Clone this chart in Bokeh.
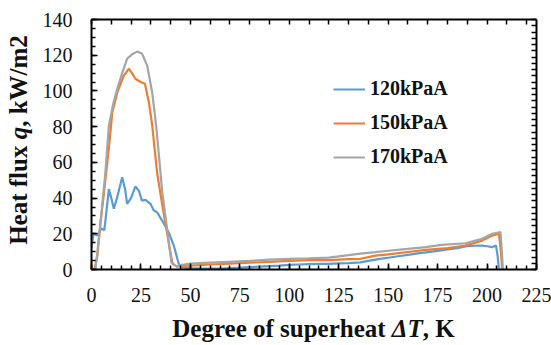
from bokeh.plotting import figure
from bokeh.layouts import row, column
from bokeh.models import (Range1d, LinearAxis, FixedTicker, SingleIntervalTicker,
                          Legend, LegendItem, CustomLabelingPolicy, Div)
from bokeh.embed import file_html
from bokeh.resources import INLINE

# ---------------- data ----------------
t_120 = [0, 1, 3, 5, 6.5, 8.8, 10, 11.3, 13, 15.5, 17, 18, 20, 22.2, 24, 25.5, 27.3,
         29.8, 31.5, 33.2, 35.7, 39, 41.6, 44.1, 46, 50, 55, 60, 65, 70, 75, 80, 85,
         90, 95, 100, 105, 110, 115, 120, 125, 130, 136, 140, 145, 150, 155, 160,
         165, 170, 175, 180, 185, 189, 193, 197.5, 200, 202.6, 204.5, 205.3, 206]
q_120 = [12, 20, 19, 23, 22, 45, 40, 34, 40.5, 51.7, 45, 36.8, 40, 46.5, 44, 38.6, 39,
         36.8, 33, 32, 27.4, 20.9, 13.4, 3.2, 1.0, 0.8, 0.6, 0.5, 0.5, 0.8, 1.0, 1.3, 1.6,
         1.9, 2.2, 2.6, 2.8, 3.0, 3.1, 3.2, 3.4, 3.6, 4.0, 4.8, 5.8, 6.6, 7.4, 8.2,
         9.0, 9.7, 10.4, 11.2, 12.0, 12.9, 13.3, 13.4, 13.0, 12.5, 13.5, 8, 0]

t_150 = [1.5, 3, 4.5, 6, 7, 8.8, 10.5, 13, 16.3, 18.9, 20.5, 22.2, 24.8, 27, 29, 30.7,
         33.2, 35.5, 37.4, 39.5, 41, 43, 46, 50, 55, 60, 70, 80, 90, 100, 110, 120,
         130, 136, 143.6, 150, 160, 169, 180, 189, 197.5, 202.6, 206, 207, 207.6]
q_150 = [0, 8, 25.7, 40, 50, 68, 88, 99, 108.6, 112.4, 110, 106.8, 105, 104, 93.7, 80.6,
         54, 38, 25.7, 12, 3, 1.8, 2.0, 2.2, 2.5, 2.8, 3.3, 3.8, 4.3, 4.8, 5.2, 5.3,
         5.8, 6.0, 7.8, 8.5, 9.8, 11.0, 12.0, 13.4, 16.2, 19.0, 20.0, 10, 0]

t_170 = [2, 4.5, 7, 8.8, 11, 13, 15.5, 18, 20.5, 23.1, 25.5, 28.2, 30.7, 32.7, 34, 35.7,
         38.3, 40.4, 43.3, 45, 50, 60, 70, 80, 90, 100, 110, 120, 130, 136, 143.6,
         150, 160, 169, 177, 189, 197.5, 202.6, 206.8, 207.6, 208]
q_170 = [0, 25.7, 54, 80.6, 93, 101, 110, 118, 120.5, 122, 121, 114, 99, 80.6, 65, 44,
         22, 4, 1.5, 2.5, 3.3, 3.8, 4.3, 4.8, 5.5, 6.0, 6.3, 6.7, 8.0, 8.9, 9.7,
         10.5, 11.6, 12.5, 13.8, 14.7, 17.2, 20.0, 21.0, 8, 0]

series_names = ["120kPaA", "150kPaA", "170kPaA"]
series_colors = ["#5B9BD5", "#ED7D31", "#A5A5A5"]

# ---------------- layout geometry ----------------
YT_W = 36            # width of the y-title strip
XT_H = 35            # height of the x-title strip
FW, FH = 551 - YT_W, 345 - XT_H
X0, X1, Y0, Y1 = 0, 225, 0, 140
FONT = "Liberation Serif"

p = figure(width=FW, height=FH, output_backend="svg", toolbar_location=None,
           x_range=Range1d(X0, X1), y_range=Range1d(Y0, Y1),
           min_border_left=55, min_border_right=15, min_border_top=19, min_border_bottom=41)
p.outline_line_color = None
p.xgrid.visible = False
p.ygrid.visible = False
p.background_fill_color = "white"
p.border_fill_color = "white"

xa = p.xaxis[0]
xa.ticker = SingleIntervalTicker(interval=25, num_minor_ticks=5)
ya = p.yaxis[0]
ya.ticker = SingleIntervalTicker(interval=20, num_minor_ticks=4)
for ax in (xa, ya):
    ax.axis_line_width = 2
    ax.axis_line_color = "black"
    ax.major_tick_in = 6
    ax.major_tick_out = 0
    ax.minor_tick_in = 4
    ax.minor_tick_out = 0
    ax.major_tick_line_width = 1.5
    ax.minor_tick_line_width = 1.5
    ax.major_tick_line_color = "black"
    ax.minor_tick_line_color = "black"
    ax.major_label_text_font = FONT
    ax.major_label_text_font_size = "20px"
    ax.major_label_text_color = "#111111"
xa.major_label_standoff = 18
ya.major_label_standoff = 19

no_labels = CustomLabelingPolicy(code="return new Set()")
top_ax = LinearAxis(ticker=FixedTicker(ticks=list(range(0, 221, 10))))
right_ax = LinearAxis(ticker=FixedTicker(ticks=[3.5 * i for i in range(41)]))
for ax in (top_ax, right_ax):
    ax.axis_line_width = 2
    ax.axis_line_color = "black"
    ax.major_tick_in = 5
    ax.major_tick_out = 0
    ax.minor_tick_line_color = None
    ax.major_tick_line_width = 1.5
    ax.major_tick_line_color = "black"
    ax.major_label_policy = no_labels
    ax.major_label_text_font_size = "1px"
    ax.major_label_standoff = 0
p.add_layout(top_ax, "above")
p.add_layout(right_ax, "right")

# ---------------- lines ----------------
renderers = []
for xs, ys, c in zip([t_120, t_150, t_170], [q_120, q_150, q_170], series_colors):
    r = p.line(xs, ys, line_color=c, line_width=2.2)
    renderers.append(r)

legend = Legend(items=[LegendItem(label=n, renderers=[r]) for n, r in zip(series_names, renderers)],
                location=(242, 101))
legend.border_line_color = None
legend.background_fill_alpha = 0
legend.padding = 0
legend.margin = 0
legend.spacing = 11
legend.glyph_width = 32
legend.glyph_height = 20
legend.label_height = 20
legend.label_standoff = 5
legend.label_text_font = FONT
legend.label_text_font_style = "bold"
legend.label_text_font_size = "20px"
legend.label_text_color = "#111111"
p.add_layout(legend, "center")

# ---------------- axis titles (HTML, with italic symbols) ----------------
span_css = ("position:absolute; white-space:nowrap; font-family:'Liberation Serif'; "
            "font-size:25px; line-height:25px; font-weight:bold; color:#111111;")

ydiv = Div(width=YT_W, height=345, margin=0,
           text=(f"<div style='position:relative; width:{YT_W}px; height:345px;'>"
                 f"<span style=\"{span_css} left:6px; top:139.5px; transform-origin:0 0; "
                 "transform:rotate(-90deg) translateX(-50%);\">"
                 "Heat flux <i>q</i>, kW/m2</span></div>"))

xdiv = Div(width=FW, height=XT_H, margin=0,
           text=(f"<div style='position:relative; width:{FW}px; height:{XT_H}px;'>"
                 f"<span style=\"{span_css} left:{313.5 - YT_W}px; top:6px; "
                 "transform:translateX(-50%);\">"
                 "Degree of superheat <i>\u0394T</i>, K</span></div>"))

layout = row(ydiv, column(p, xdiv, spacing=0), spacing=0)

open("out.html", "w").write(file_html(layout, INLINE))
